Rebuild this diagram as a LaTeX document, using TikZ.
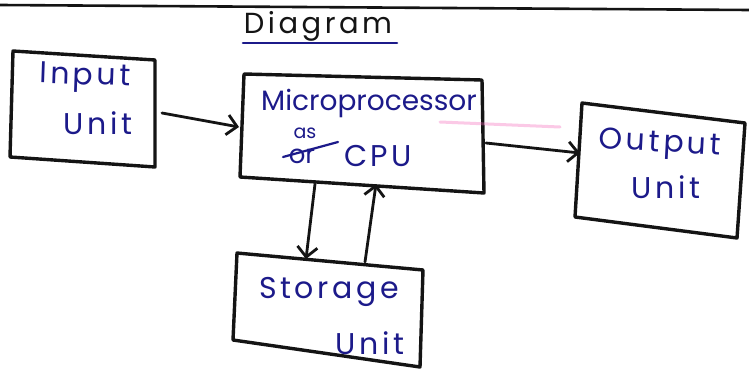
\documentclass[tikz,border=0pt]{standalone}
\usepackage{fontspec}
\setmainfont{Poppins}
\newfontfamily\handfont[LetterSpace=12]{Poppins}
\usetikzlibrary{arrows.meta}
\definecolor{ink}{RGB}{28,26,138}
\definecolor{pen}{RGB}{20,20,20}
\tikzset{
  boxline/.style={draw=pen, line width=3.4pt, line join=round, line cap=round},
  flow/.style={draw=pen, line width=2.8pt, line cap=round,
    -{Straight Barb[length=10pt, width=20pt, line width=2.8pt]}},
  label/.style={text=ink, inner sep=0pt, font=\handfont\fontsize{30}{32}\selectfont},
}
\begin{document}
\begin{tikzpicture}[x=1pt, y=-1pt]
  \useasboundingbox (0,0) rectangle (749,369);
  \fill[white] (0,0) rectangle (749,369);

  % page rule and heading
  \draw[pen, line width=2.6pt] (0,5) -- (749,10);
  \node[text=pen, inner sep=0pt, font=\handfont\fontsize{29}{31}\selectfont] (title) at (318,26) {Diagram};
  \draw[ink, line width=2.6pt, line cap=round] (243,43) -- (397,43);

  % box corners
  \coordinate (i1) at (13,51);  \coordinate (i2) at (155,60);
  \coordinate (i3) at (155,167); \coordinate (i4) at (10,157);
  \coordinate (c1) at (244,74);  \coordinate (c2) at (482,80);
  \coordinate (c3) at (484,193); \coordinate (c4) at (240,177);
  \coordinate (o1) at (582,103); \coordinate (o2) at (745,123);
  \coordinate (o3) at (737,238); \coordinate (o4) at (575,217);
  \coordinate (s1) at (237,253); \coordinate (s2) at (423,270);
  \coordinate (s3) at (420,367); \coordinate (s4) at (233,340);

  \draw[boxline] (i1) -- (i2) -- (i3) -- (i4) -- cycle;
  \draw[boxline] (c1) -- (c2) -- (c3) -- (c4) -- cycle;
  \draw[boxline] (o1) -- (o2) -- (o3) -- (o4) -- cycle;
  \draw[boxline] (s1) -- (s2) -- (s3) -- (s4) -- cycle;

  % faint highlighter smear
  \draw[magenta!60, opacity=0.35, line width=3pt, line cap=round] (440,122) -- (560,127);

  % box texts
  \node[label, rotate=-2] (inA) at (85,78) {Input};
  \node[label] (inB) at (98,123) {Unit};
  \node[label, font=\fontsize{28}{30}\selectfont] (cpuA) at (369,103) {Microprocessor};
  \node[label] (cpuB) at (378,156) {CPU};
  \node[label, font=\fontsize{19}{21}\selectfont] (cpuAs) at (305,133) {as};
  \node[label, font=\fontsize{26}{28}\selectfont] (cpuOr) at (302,156) {or};
  \draw[ink, line width=2.2pt, line cap=round] (283,157) -- (338,142);
  \node[label, rotate=-3] (outA) at (660,145) {Output};
  \node[label] (outB) at (666,187) {Unit};
  \node[label] (stA) at (329,292) {Storage};
  \node[label] (stB) at (370,343) {Unit};

  % connectors
  \coordinate (inR) at (162,113);  \coordinate (cpuL) at (239,127);
  \coordinate (cpuR) at (486,143); \coordinate (outL) at (580,153);
  \coordinate (cpuD) at (315,184); \coordinate (stU) at (306,259);
  \coordinate (stU2) at (365,262); \coordinate (cpuD2) at (376,184);

  \draw[flow] (inR) -- (cpuL);
  \draw[flow] (cpuR) -- (outL);
  \draw[flow] (cpuD) -- (stU);
  \draw[flow] (stU2) -- (cpuD2);
\end{tikzpicture}
\end{document}
